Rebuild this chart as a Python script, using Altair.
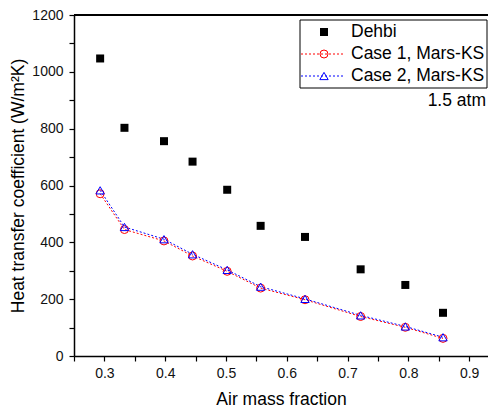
import altair as alt
import pandas as pd

# Data
air_fraction = [0.293, 0.333, 0.398, 0.445, 0.502, 0.557, 0.630, 0.7215, 0.795, 0.857]
dehbi = [1047, 803, 756, 684, 585, 458, 419, 305, 250, 152]
case1 = [571, 445, 405, 352, 298, 239, 198, 139, 101, 62]
case2 = [583, 454, 411, 358, 303, 244, 201, 143, 104, 66]

x_ticks = [0.25, 0.3, 0.35, 0.4, 0.45, 0.5, 0.55, 0.6, 0.65, 0.7, 0.75, 0.8, 0.85, 0.9]
y_ticks = [0, 100, 200, 300, 400, 500, 600, 700, 800, 900, 1000, 1100, 1200]

legend_labels = ["Dehbi", "Case 1, Mars-KS", "Case 2, Mars-KS"]
note_text = "1.5 atm"

W, H = 414, 341
FONT = "Liberation Sans"

df = pd.DataFrame({"x": air_fraction, "dehbi": dehbi, "case1": case1, "case2": case2})

xscale = alt.Scale(domain=[0.25, 0.931], nice=False, zero=False)
yscale = alt.Scale(domain=[0, 1200], nice=False, zero=True)

xaxis = alt.Axis(
    title="Air mass fraction", values=x_ticks,
    labelExpr="(round(datum.value*100) % 10 == 0) ? format(datum.value, '.1f') : ''",
    grid=False, domainColor="black", domainWidth=1.5, tickColor="black", tickWidth=1.2,
    tickSize=5, labelPadding=5, labelFont=FONT, labelFontSize=14, labelColor="#111",
    titleFont=FONT, titleFontSize=17.5, titleFontWeight="normal", titleColor="black",
    titlePadding=10, labelFlush=False, labelOverlap=False,
)
yaxis = alt.Axis(
    title="Heat transfer coefficient (W/m²K)", values=y_ticks,
    labelExpr="datum.value % 200 == 0 ? datum.label : ''",
    grid=False, domainColor="black", domainWidth=1.5, tickColor="black", tickWidth=1.2,
    tickSize=5, labelPadding=6, labelFont=FONT, labelFontSize=14, labelColor="#111",
    titleFont=FONT, titleFontSize=17.5, titleFontWeight="normal", titleColor="black",
    titlePadding=4, format="d", labelOverlap=False,
)

X = alt.X("x:Q", scale=xscale, axis=xaxis)


def Y(field):
    return alt.Y(f"{field}:Q", scale=yscale, axis=yaxis)


base = alt.Chart(df)

dehbi_pts = base.mark_point(shape="square", filled=True, color="black", size=64, opacity=1).encode(
    x=X, y=Y("dehbi")
)
c1_line = base.mark_line(color="#ff0000", strokeDash=[2, 2], strokeWidth=1).encode(x=X, y=Y("case1"))
c1_pts = base.mark_point(shape="circle", filled=False, color="#ff0000", size=64, strokeWidth=1, opacity=1).encode(
    x=X, y=Y("case1")
)
c2_line = base.mark_line(color="#0000ff", strokeDash=[2, 2], strokeWidth=1).encode(x=X, y=Y("case2"))
c2_pts = base.mark_point(shape="triangle-up", filled=False, color="#0000ff", size=70, strokeWidth=1, opacity=1).encode(
    x=X, y=Y("case2")
)

top_border = alt.Chart(df).mark_rule(color="black", strokeWidth=1.5).encode(
    x=alt.value(0), x2=alt.value(W), y=alt.value(0)
)

# Manual legend
LX = 226
lg = alt.Chart(pd.DataFrame({"a": [0]}))
legend_box = lg.mark_rect(fill="white", stroke="black", strokeWidth=1).encode(
    x=alt.value(LX), x2=alt.value(LX + 187), y=alt.value(5), y2=alt.value(73)
)
row_y = [17, 39, 61]
leg_sq = lg.mark_point(shape="square", filled=True, color="black", size=64, opacity=1).encode(
    x=alt.value(LX + 24), y=alt.value(row_y[0])
)
leg_l1 = lg.mark_rule(color="#ff0000", strokeDash=[2, 2], strokeWidth=1).encode(
    x=alt.value(LX + 1), x2=alt.value(LX + 45), y=alt.value(row_y[1])
)
leg_c1 = lg.mark_point(shape="circle", filled=False, color="#ff0000", size=64, strokeWidth=1, opacity=1).encode(
    x=alt.value(LX + 24), y=alt.value(row_y[1])
)
leg_l2 = lg.mark_rule(color="#0000ff", strokeDash=[2, 2], strokeWidth=1).encode(
    x=alt.value(LX + 1), x2=alt.value(LX + 45), y=alt.value(row_y[2])
)
leg_c2 = lg.mark_point(shape="triangle-up", filled=False, color="#0000ff", size=70, strokeWidth=1, opacity=1).encode(
    x=alt.value(LX + 24), y=alt.value(row_y[2])
)
leg_texts = [
    lg.mark_text(text=t, align="left", baseline="middle", font=FONT, fontSize=17.5, color="black").encode(
        x=alt.value(LX + 51), y=alt.value(yy)
    )
    for t, yy in zip(legend_labels, row_y)
]
note = lg.mark_text(text=note_text, align="right", baseline="middle", font=FONT, fontSize=17.5, color="black").encode(
    x=alt.value(LX + 186), y=alt.value(86)
)

chart = alt.layer(
    dehbi_pts, c1_line, c2_line, c1_pts, c2_pts, top_border,
    legend_box, leg_sq, leg_l1, leg_c1, leg_l2, leg_c2, *leg_texts, note,
).properties(
    width=W, height=H,
    autosize=alt.AutoSizeParams(type="none"),
    padding={"left": 66, "top": 7, "right": 0, "bottom": 54},
    background="white",
).configure_view(stroke=None)

chart.save("out.html", embed_options={"renderer": "svg", "actions": False})
